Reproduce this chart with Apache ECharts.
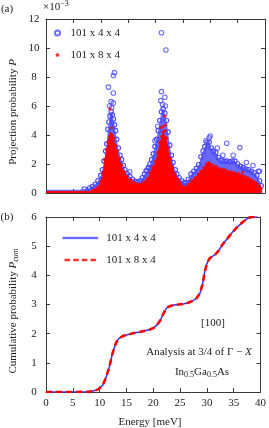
<!DOCTYPE html>
<html><head><meta charset="utf-8">
<script src="https://cdn.jsdelivr.net/npm/echarts@6/dist/echarts.min.js"></script>
<style>html,body{margin:0;padding:0;background:#fff}#c{width:269px;height:428px}</style>
</head><body><div id="c"></div>
<script>
// ---------- data ----------
const seriesNames = ['101 x 4 x 4', '101 x 8 x 4'];
const energyTicks = [0, 5, 10, 15, 20, 25, 30, 35, 40];
const projTicks = [0, 2, 4, 6, 8, 10, 12];
const cumTicks = [0, 1, 2, 3, 4, 5, 6];

// upper edge of the dense blue cloud (101 x 4 x 4), units of 1e-3
const blueBand = [[0,0.22],[3,0.22],[6,0.22],[7,0.28],[8,0.35],[8.5,0.45],[9,0.6],[9.5,0.85],[10,1.2],[10.3,1.6],[10.6,2.2],[10.9,2.9],[11.1,3.4],[11.3,4.4],[11.5,4.9],[11.7,5.3],[11.9,5.6],[12.1,5.4],[12.3,5.1],[12.5,4.7],[12.7,4.3],[12.9,3.7],[13.2,3.1],[13.5,2.6],[13.8,2.3],[14.1,1.9],[14.4,1.6],[14.8,1.35],[15.3,1.13],[15.8,0.95],[16.3,0.8],[16.8,0.75],[17.2,0.85],[17.6,1.05],[18.0,1.3],[18.4,1.5],[18.7,1.75],[19.0,2.0],[19.3,2.3],[19.6,2.7],[19.9,3.2],[20.2,3.7],[20.5,4.3],[20.8,5.0],[21.1,5.6],[21.4,5.8],[21.7,5.5],[22.0,5.0],[22.3,4.2],[22.6,3.3],[22.9,2.6],[23.2,2.1],[23.6,1.6],[23.9,1.3],[24.3,1.05],[24.8,0.85],[25.2,0.7],[25.6,0.7],[26.0,0.95],[26.5,1.3],[27.0,1.5],[27.5,1.7],[27.9,1.95],[28.3,2.5],[28.7,2.9],[29.0,3.2],[29.4,3.5],[29.8,3.5],[30.2,3.1],[30.6,2.9],[31.0,2.8],[31.5,2.45],[32.0,2.25],[32.5,2.2],[33.0,2.2],[33.5,2.15],[34.0,2.2],[34.5,2.2],[35.0,2.0],[35.5,1.85],[36.0,1.75],[36.5,1.65],[37.0,1.6],[37.5,1.5],[38.0,1.4],[38.5,1.2],[39.0,0.85],[39.3,0.5],[39.5,0.15]];
// isolated blue circles above the cloud
const blueOutliers = [[11.4,7.3],[12.3,8.1],[12.5,8.3],[12.3,6.9],[11.9,6.3],[12.3,6.2],[12.0,5.9],[11.6,6.0],[15.3,1.47],[18.3,1.55],[18.8,1.7],[21.1,11.05],[21.9,9.86],[21.1,6.99],[21.7,6.6],[20.95,6.37],[21.3,6.1],[21.8,6.0],[20.4,4.6],[19.9,3.6],[29.2,3.6],[29.8,3.8],[30.0,3.93],[31.3,3.1],[32.3,2.6],[33.0,3.43],[34.2,2.6],[35.4,3.13],[36.6,2.1],[37.8,1.9],[38.8,1.5],[39.0,1.5]];
// upper edge of the dense red cloud (101 x 8 x 4)
const redBand = [[0,0.13],[4,0.13],[7,0.13],[8,0.14],[8.5,0.18],[9,0.25],[9.5,0.4],[10,0.8],[10.4,1.4],[10.7,2.3],[11.0,3.0],[11.3,3.5],[11.6,3.9],[11.8,4.1],[12.1,4.0],[12.4,3.8],[12.7,3.3],[13.0,2.9],[13.4,2.4],[13.8,1.9],[14.3,1.45],[14.8,1.15],[15.5,0.9],[16.2,0.72],[16.8,0.62],[17.5,0.65],[18.0,0.8],[18.5,1.0],[19.0,1.4],[19.5,1.8],[20.0,2.2],[20.4,2.8],[20.8,3.5],[21.1,3.9],[21.4,4.2],[21.7,4.3],[22.0,3.8],[22.3,3.1],[22.7,2.4],[23.1,1.8],[23.6,1.3],[24.1,0.95],[24.6,0.7],[25.1,0.45],[25.5,0.4],[26.0,0.6],[26.6,0.85],[27.2,1.05],[27.8,1.3],[28.3,1.5],[28.8,1.75],[29.3,2.0],[29.8,2.05],[30.3,1.95],[30.9,1.8],[31.5,1.7],[32.1,1.65],[32.7,1.6],[33.3,1.5],[33.9,1.45],[34.5,1.4],[35.1,1.35],[35.7,1.25],[36.3,1.15],[36.9,1.05],[37.5,0.92],[38.0,0.8],[38.5,0.68],[39.0,0.48],[39.3,0.3],[39.5,0.05]];
const redOutliers = [[11.7,5.8],[12.0,4.5],[11.5,3.65],[21.7,5.3],[21.0,4.5],[21.9,4.7],[21.4,4.6],[29.7,2.1],[31.0,1.85],[35.9,1.45]];
// cumulative probability (both meshes coincide)
const cumulative = [[0,0],[5,0],[8,0.01],[9,0.04],[9.8,0.1],[10.6,0.24],[11.2,0.5],[11.8,0.85],[12.3,1.25],[12.7,1.5],[13.1,1.7],[13.6,1.84],[14.5,1.93],[15.5,1.98],[16.4,2.02],[17.5,2.06],[18.5,2.1],[19.5,2.15],[20.1,2.2],[20.7,2.3],[21.3,2.45],[21.8,2.65],[22.2,2.8],[22.6,2.9],[23.2,2.95],[23.8,2.98],[24.7,3.0],[25.6,3.02],[26.5,3.06],[27.3,3.12],[28.1,3.22],[28.7,3.38],[29.2,3.7],[29.6,4.12],[30.0,4.4],[30.5,4.58],[31.0,4.65],[31.5,4.7],[32.2,4.85],[33.0,5.08],[34.0,5.3],[34.8,5.49],[35.8,5.68],[36.7,5.83],[37.4,5.93],[37.9,5.98],[38.5,6.0],[39.5,6.0]];

// ---------- styling ----------
const FONT = 'Liberation Serif';
const AX = '#3a3a3a';
const TXT = '#222';
const BLUE = '#4848ff';

function xAx(grid, pos, labels) {
  return {
    type: 'value', gridIndex: grid, position: pos,
    min: energyTicks[0], max: energyTicks[energyTicks.length - 1], interval: energyTicks[1] - energyTicks[0],
    axisLine: { show: true, onZero: false, lineStyle: { color: AX, width: 1 } },
    axisTick: { show: true, inside: true, length: 4, lineStyle: { color: AX } },
    axisLabel: { show: labels, margin: 6, fontFamily: FONT, fontSize: 11, color: TXT },
    splitLine: { show: false }
  };
}
function yAx(grid, pos, labels, ticks) {
  return {
    type: 'value', gridIndex: grid, position: pos,
    min: ticks[0], max: ticks[ticks.length - 1], interval: ticks[1] - ticks[0],
    axisLine: { show: true, onZero: false, lineStyle: { color: AX, width: 1 } },
    axisTick: { show: true, inside: true, length: 4, lineStyle: { color: AX } },
    axisLabel: { show: labels, margin: 12, align: 'center', fontFamily: FONT, fontSize: 11, color: TXT },
    splitLine: { show: false }
  };
}
const baseRich = {
  n: { fontFamily: FONT, fontSize: 11, lineHeight: 14, fill: TXT },
  i: { fontFamily: FONT, fontSize: 11, lineHeight: 14, fontStyle: 'italic', fill: TXT },
  s: { fontFamily: FONT, fontSize: 8, lineHeight: 8, verticalAlign: 'bottom', fill: TXT },
  si: { fontFamily: FONT, fontSize: 8, lineHeight: 8, verticalAlign: 'bottom', fontStyle: 'italic', fill: TXT },
  u: { fontFamily: FONT, fontSize: 8, lineHeight: 8, verticalAlign: 'top', fill: TXT }
};
function txt(x, y, text, extra) {
  return Object.assign({
    type: 'text', x: x, y: y, silent: true,
    style: { text: text, rich: baseRich, align: 'center', verticalAlign: 'middle', font: '11px ' + FONT, fill: TXT }
  }, extra || {});
}

const chart = echarts.init(document.getElementById('c'), null, { renderer: 'canvas' });
chart.setOption({
  animation: false,
  backgroundColor: '#fff',
  grid: [
    { left: 46, right: 4, top: 19, bottom: 235 },
    { left: 46, right: 6, top: 217, bottom: 36 }
  ],
  xAxis: [xAx(0, 'bottom', false), xAx(0, 'top', false), xAx(1, 'bottom', true), xAx(1, 'top', false)],
  yAxis: [yAx(0, 'left', true, projTicks), yAx(0, 'right', false, projTicks), yAx(1, 'left', true, cumTicks), yAx(1, 'right', false, cumTicks)],
  legend: [
    {
      data: [{ name: seriesNames[0] }, { name: seriesNames[1], itemStyle: { borderColor: '#fff', borderWidth: 1.6 } }],
      orient: 'vertical', left: 54, top: 26, padding: 0, itemWidth: 14, itemHeight: 5, itemGap: 8,
      selectedMode: false,
      textStyle: { fontFamily: FONT, fontSize: 11, color: TXT, lineHeight: 14, padding: [0, 0, 0, 1] }
    },
    {
      data: [
        { name: seriesNames[0], icon: 'rect', itemStyle: { color: '#3030ff', borderColor: '#fff', borderWidth: 0.6 } },
        { name: seriesNames[1], icon: 'path://M0,0h6.5v3h-6.5zM10,0h6.5v3h-6.5zM20,0h6.5v3h-6.5zM30,0h6.5v3h-6.5z', itemStyle: { color: '#ff0000', borderWidth: 0 } }
      ],
      orient: 'vertical', left: 62, top: 231, padding: 0, itemWidth: 36, itemHeight: 2.6, itemGap: 8,
      selectedMode: false,
      textStyle: { fontFamily: FONT, fontSize: 11, color: TXT, lineHeight: 14, padding: [0, 0, 0, 3] }
    }
  ],
  series: [
    { name: seriesNames[0], type: 'scatter', xAxisIndex: 0, yAxisIndex: 0, data: blueOutliers, symbol: 'circle', symbolSize: 4.5,
      itemStyle: { color: 'rgba(255,255,255,0)', borderColor: BLUE, borderWidth: 1.1 }, z: 3, silent: true },
    { name: seriesNames[1], type: 'scatter', xAxisIndex: 0, yAxisIndex: 0, data: redOutliers, symbol: 'circle', symbolSize: 3.2,
      itemStyle: { color: '#ff0000' }, z: 5, silent: true },
    { name: 'blueCloud', type: 'line', xAxisIndex: 0, yAxisIndex: 0, data: blueBand, symbol: 'circle',
      symbolSize: function (v) { return v[1] < 0.25 ? 0 : 4.5; }, showSymbol: true,
      itemStyle: { color: 'rgba(255,255,255,0)', borderColor: BLUE, borderWidth: 1.1 },
      lineStyle: { opacity: 0 }, areaStyle: { color: 'rgba(45,45,245,0.72)', opacity: 1 }, z: 2, silent: true },
    { name: 'redCloud', type: 'line', xAxisIndex: 0, yAxisIndex: 0, data: redBand, symbol: 'circle',
      symbolSize: function (v) { return v[1] < 0.15 ? 0 : 3; }, showSymbol: true,
      itemStyle: { color: '#ff0000' }, lineStyle: { opacity: 0 }, areaStyle: { color: '#ff0000', opacity: 1 }, z: 4, silent: true },
    { name: seriesNames[0], type: 'line', xAxisIndex: 2, yAxisIndex: 2, data: cumulative, symbol: 'none', showSymbol: false,
      lineStyle: { color: '#3030ff', width: 1.5 }, z: 6, silent: true },
    { name: seriesNames[1], type: 'line', xAxisIndex: 2, yAxisIndex: 2, data: cumulative, symbol: 'none', showSymbol: false,
      lineStyle: { color: '#ff0000', width: 2.6, type: [6, 4] }, z: 7, silent: true }
  ],
  graphic: [
    txt(7, 9, '(a)'),
    txt(7, 217, '(b)'),
    txt(43, 7, '{n|×10}{u|−3}', { style: { text: '{n|×10}{u|−3}', rich: baseRich, align: 'left', verticalAlign: 'middle' } }),
    txt(13, 112, '{n|Projection probability }{i|P}', { rotation: Math.PI / 2 }),
    txt(13, 311, '{n|Cumulative probability }{i|P}{si|cum}', { rotation: Math.PI / 2 }),
    txt(213, 323, '{n|[100]}'),
    txt(199, 352, '{n|Analysis at 3/4 of Γ − }{i|X}'),
    txt(202, 372, '{n|In}{s|0.5}{n|Ga}{s|0.5}{n|As}'),
    txt(150, 422, '{n|Energy [meV]}')
  ]
});
</script>
</body></html>
